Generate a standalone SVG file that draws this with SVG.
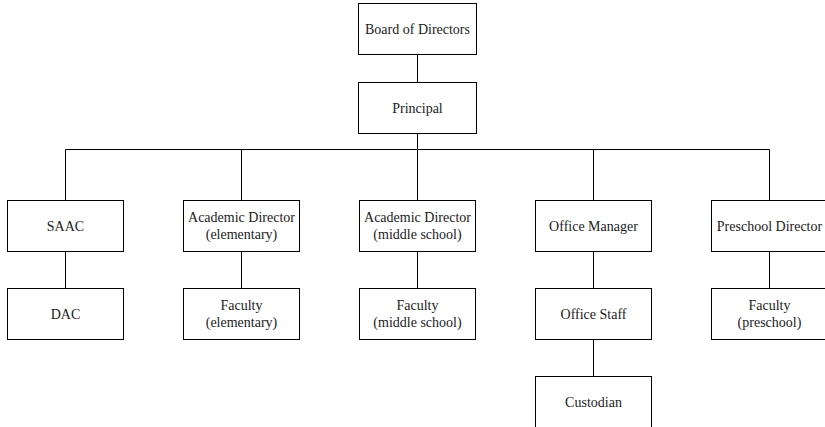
<svg xmlns="http://www.w3.org/2000/svg" width="825" height="427" viewBox="0 0 825 427">
<style>
rect{fill:#fff;stroke:#000;stroke-width:1}
text{font-family:"Liberation Serif","DejaVu Serif",serif;font-size:14px;fill:#222;text-anchor:middle;dominant-baseline:central}
#connectors path{stroke:#000;stroke-width:1;fill:none}
</style>
<rect x="0" y="0" width="825" height="427" style="stroke:none"/>
<g id="connectors">
<path d="M417.5 54.5V82.5"/>
<path d="M417.5 133.5V149.5"/>
<path d="M65.5 149.5H769.5"/>
<path d="M65.5 149.5V200.5M241.5 149.5V200.5M417.5 149.5V200.5M593.5 149.5V200.5M769.5 149.5V200.5"/>
<path d="M65.5 251.5V288.5M241.5 251.5V288.5M417.5 251.5V288.5M593.5 251.5V288.5M769.5 251.5V288.5"/>
<path d="M593.5 339.5V376.5"/>
</g>
<g id="board"><rect x="358.5" y="3.5" width="118" height="51"/><text x="417.5" y="29">Board of Directors</text></g>
<g id="principal"><rect x="358.5" y="82.5" width="118" height="51"/><text x="417.5" y="108">Principal</text></g>
<g id="saac"><rect x="7.5" y="200.5" width="116" height="51"/><text x="65.5" y="226">SAAC</text></g>
<g id="acad-elem"><rect x="183.5" y="200.5" width="116" height="51"/><text x="241.5" y="217">Academic Director</text><text x="241.5" y="234">(elementary)</text></g>
<g id="acad-mid"><rect x="359.5" y="200.5" width="116" height="51"/><text x="417.5" y="217">Academic Director</text><text x="417.5" y="234">(middle school)</text></g>
<g id="office-mgr"><rect x="535.5" y="200.5" width="116" height="51"/><text x="593.5" y="226">Office Manager</text></g>
<g id="preschool-dir"><rect x="711.5" y="200.5" width="116" height="51"/><text x="769.5" y="226">Preschool Director</text></g>
<g id="dac"><rect x="7.5" y="288.5" width="116" height="51"/><text x="65.5" y="314">DAC</text></g>
<g id="fac-elem"><rect x="183.5" y="288.5" width="116" height="51"/><text x="241.5" y="305">Faculty</text><text x="241.5" y="322">(elementary)</text></g>
<g id="fac-mid"><rect x="359.5" y="288.5" width="116" height="51"/><text x="417.5" y="305">Faculty</text><text x="417.5" y="322">(middle school)</text></g>
<g id="office-staff"><rect x="535.5" y="288.5" width="116" height="51"/><text x="593.5" y="314">Office Staff</text></g>
<g id="fac-pre"><rect x="711.5" y="288.5" width="116" height="51"/><text x="769.5" y="305">Faculty</text><text x="769.5" y="322">(preschool)</text></g>
<g id="custodian"><rect x="535.5" y="376.5" width="116" height="51"/><text x="593.5" y="402">Custodian</text></g>
</svg>
